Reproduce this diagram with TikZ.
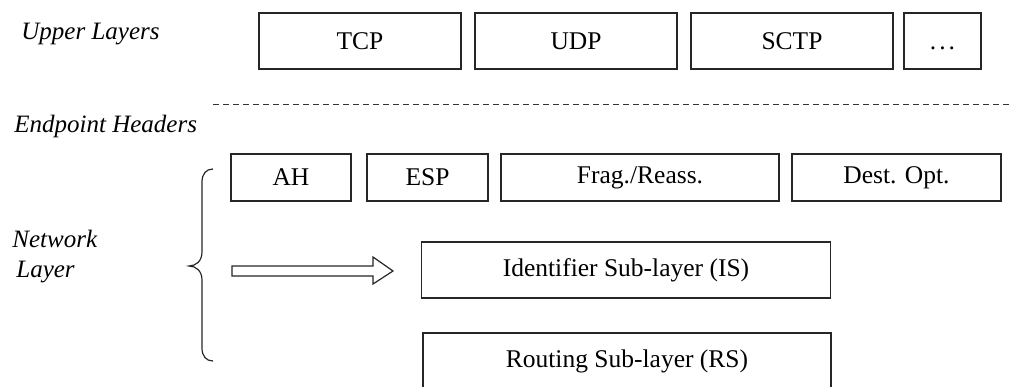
\documentclass[tikz,border=0pt]{standalone}
\usepackage{fontspec}
\setmainfont{Liberation Serif}
\begin{document}
\begin{tikzpicture}[x=0.5pt,y=-0.5pt,
  side/.style={font=\fontsize{12.5}{15}\selectfont\itshape, anchor=base west, inner sep=0pt},
  bx/.style 2 args={draw=black!85, line width=0.6pt, inner sep=0pt, outer sep=0pt,
    minimum width=#1*0.5pt, minimum height=#2*0.5pt, font=\fontsize{12.75}{15}\selectfont},
  sep/.style={draw=black!80, line width=0.5pt, dash pattern=on 3pt off 2pt},
  brc/.style={draw=black!85, line width=0.6pt},
  blockarrow/.style={draw=black!85, line width=0.6pt, fill=white}]
\useasboundingbox (0,0) rectangle (1012,386);
% side labels
\node[side] (ul) at (21,39) {Upper Layers};
\node[side] (eh) at (14,132) {Endpoint Headers};
\node[side] (nw) at (12,247) {Network};
\node[side] (ly) at (16,277) {Layer};
% upper layer boxes
\node[bx={202}{56}] (tcp) at (360,41) {TCP};
\node[bx={202}{56}] (udp) at (576,41) {UDP};
\node[bx={202}{56}] (sctp) at (792,41) {SCTP};
\node[bx={77}{56}] (more) at (942.5,41) {\vphantom{TCP}.\kern0.12em.\kern0.12em.};
% separator
\coordinate (s1) at (213,104);
\coordinate (s2) at (1012,104);
\draw[sep] (s1) -- (s2);
% endpoint header boxes
\node[bx={120}{47}] (ah) at (291,177.5) {AH};
\node[bx={121}{47}] (esp) at (427.5,177.5) {ESP};
\node[bx={278}{47}] (frag) at (640,177.5) {Frag./Reass.};
\node[bx={209}{47}] (dest) at (896.5,177.5) {Dest. Opt.};
% sub-layers
\node[bx={409}{56}] (is) at (626,270) {Identifier Sub-layer (IS)};
\node[bx={408}{56}] (rs) at (627,361) {Routing Sub-layer (RS)};
% brace
\draw[brc] (213,169) .. controls (206,169) and (202,174) .. (202,182)
  -- (202,252) .. controls (202,261) and (196,266) .. (189,266)
  .. controls (196,266) and (202,271) .. (202,280)
  -- (202,348) .. controls (202,356) and (206,361) .. (213,361);
% block arrow
\draw[blockarrow] (232,266) -- (373,266) -- (373,257) -- (393,271) -- (373,284)
  -- (373,276) -- (232,276) -- cycle;
\end{tikzpicture}
\end{document}
